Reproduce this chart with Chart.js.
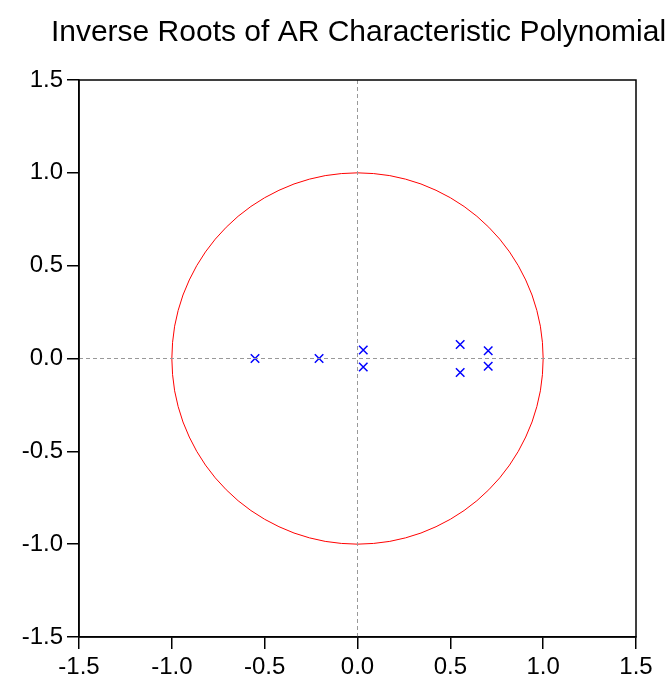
<!DOCTYPE html>
<html>
<head>
<meta charset="utf-8">
<script src="https://cdn.jsdelivr.net/npm/chart.js@4"></script>
<style>
  html, body { margin: 0; padding: 0; background: #fff; }
  #wrap { width: 672px; height: 683px; position: relative; }
</style>
</head>
<body>
<div id="wrap"><canvas id="c"></canvas></div>
<script>
const chartTitle = "Inverse Roots of AR Characteristic Polynomial";

const rootsRe = [-0.552, -0.207, 0.031, 0.031, 0.553, 0.553, 0.704, 0.704];
const rootsIm = [0.000, 0.000, 0.046, -0.046, 0.075, -0.075, 0.042, -0.042];

// Unit circle vertices (every 5 degrees)
const circleX = [
  1.000, 0.996, 0.985, 0.966, 0.940, 0.906, 0.866, 0.819, 0.766, 0.707, 0.643, 0.574, 0.500, 0.423, 0.342, 0.259, 0.174, 0.087,
  0.000, -0.087, -0.174, -0.259, -0.342, -0.423, -0.500, -0.574, -0.643, -0.707, -0.766, -0.819, -0.866, -0.906, -0.940, -0.966, -0.985, -0.996,
  -1.000, -0.996, -0.985, -0.966, -0.940, -0.906, -0.866, -0.819, -0.766, -0.707, -0.643, -0.574, -0.500, -0.423, -0.342, -0.259, -0.174, -0.087,
  0.000, 0.087, 0.174, 0.259, 0.342, 0.423, 0.500, 0.574, 0.643, 0.707, 0.766, 0.819, 0.866, 0.906, 0.940, 0.966, 0.985, 0.996,
  1.000];
const circleY = [
  0.000, 0.087, 0.174, 0.259, 0.342, 0.423, 0.500, 0.574, 0.643, 0.707, 0.766, 0.819, 0.866, 0.906, 0.940, 0.966, 0.985, 0.996,
  1.000, 0.996, 0.985, 0.966, 0.940, 0.906, 0.866, 0.819, 0.766, 0.707, 0.643, 0.574, 0.500, 0.423, 0.342, 0.259, 0.174, 0.087,
  0.000, -0.087, -0.174, -0.259, -0.342, -0.423, -0.500, -0.574, -0.643, -0.707, -0.766, -0.819, -0.866, -0.906, -0.940, -0.966, -0.985, -0.996,
  -1.000, -0.996, -0.985, -0.966, -0.940, -0.906, -0.866, -0.819, -0.766, -0.707, -0.643, -0.574, -0.500, -0.423, -0.342, -0.259, -0.174, -0.087,
  0.000];

const axisMin = -1.5, axisMax = 1.5, axisStep = 0.5;

const toXY = (xs, ys) => xs.map((x, i) => ({ x: x, y: ys[i] }));

const frameAndTitle = {
  id: 'frameAndTitle',
  afterDraw(chart) {
    const { ctx, chartArea: a } = chart;
    ctx.save();
    ctx.strokeStyle = '#000';
    ctx.lineWidth = 1.5;
    ctx.strokeRect(a.left, a.top, a.right - a.left, a.bottom - a.top);
    ctx.fillStyle = '#000';
    ctx.font = '30px "Liberation Sans", Arial, sans-serif';
    ctx.textAlign = 'center';
    ctx.textBaseline = 'alphabetic';
    ctx.fillText(chartTitle, (a.left + a.right) / 2 + 1, 41);
    ctx.restore();
  }
};

const tickFont = { family: '"Liberation Sans", Arial, sans-serif', size: 24 };

new Chart(document.getElementById('c'), {
  type: 'scatter',
  data: {
    datasets: [
      {
        label: 'h0',
        type: 'line',
        data: [{ x: axisMin, y: 0 }, { x: axisMax, y: 0 }],
        borderColor: '#999999',
        borderWidth: 1,
        borderDash: [4, 3],
        pointRadius: 0,
        fill: false
      },
      {
        label: 'v0',
        type: 'line',
        data: [{ x: 0, y: axisMin }, { x: 0, y: axisMax }],
        borderColor: '#999999',
        borderWidth: 1,
        borderDash: [4, 3],
        pointRadius: 0,
        fill: false
      },
      {
        label: 'Unit circle',
        type: 'line',
        data: toXY(circleX, circleY),
        borderColor: '#ff0000',
        borderWidth: 1,
        pointRadius: 0,
        tension: 0,
        fill: false
      },
      {
        label: 'Inverse roots',
        data: toXY(rootsRe, rootsIm),
        pointStyle: 'crossRot',
        pointRadius: 6,
        borderColor: '#0000ff',
        backgroundColor: '#0000ff',
        borderWidth: 1.5
      }
    ]
  },
  options: {
    responsive: true,
    maintainAspectRatio: false,
    devicePixelRatio: 1,
    animation: false,
    layout: { padding: { top: 80, right: 36, left: 0, bottom: 0 } },
    plugins: {
      legend: { display: false },
      tooltip: { enabled: false },
      title: { display: false }
    },
    scales: {
      x: {
        type: 'linear',
        min: axisMin,
        max: axisMax,
        ticks: {
          stepSize: axisStep,
          color: '#000',
          font: tickFont,
          padding: 4,
          maxRotation: 0,
          callback: v => v.toFixed(1)
        },
        grid: { drawOnChartArea: false, drawTicks: true, tickLength: 12, color: '#000', lineWidth: 1.5 },
        border: { display: true, color: '#000', width: 1.5 },
        afterFit: s => { s.height = 46; }
      },
      y: {
        type: 'linear',
        min: axisMin,
        max: axisMax,
        ticks: {
          stepSize: axisStep,
          color: '#000',
          font: tickFont,
          padding: 4,
          callback: v => v.toFixed(1)
        },
        grid: { drawOnChartArea: false, drawTicks: true, tickLength: 12, color: '#000', lineWidth: 1.5 },
        border: { display: true, color: '#000', width: 1.5 },
        afterFit: s => { s.width = 79; }
      }
    }
  },
  plugins: [frameAndTitle]
});
</script>
</body>
</html>
